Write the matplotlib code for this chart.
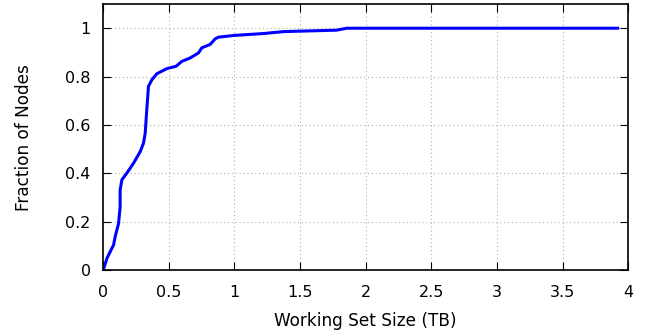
import numpy as np
import matplotlib
matplotlib.use("Agg")
import matplotlib.pyplot as plt

plt.rcParams['font.family'] = ['DejaVu Sans']

# CDF of per-node working set size (TB)
size_tb = [0.0, 0.028, 0.053, 0.079, 0.091, 0.117, 0.129, 0.129, 0.142, 0.180,
           0.231, 0.282, 0.307, 0.320, 0.332, 0.345, 0.371, 0.409, 0.485, 0.556,
           0.599, 0.662, 0.726, 0.751, 0.815, 0.853, 0.878, 0.992, 1.221, 1.373,
           1.779, 1.855, 3.92]
fraction = [0.0, 0.048, 0.076, 0.104, 0.138, 0.193, 0.262, 0.331, 0.373, 0.401,
            0.442, 0.490, 0.525, 0.566, 0.663, 0.760, 0.787, 0.812, 0.833, 0.843,
            0.863, 0.877, 0.898, 0.919, 0.933, 0.956, 0.963, 0.970, 0.978, 0.986,
            0.992, 1.0, 1.0]

x_ticks = [0, 0.5, 1, 1.5, 2, 2.5, 3, 3.5, 4]
x_tick_labels = ['0', '0.5', '1', '1.5', '2', '2.5', '3', '3.5', '4']
y_ticks = [0, 0.2, 0.4, 0.6, 0.8, 1]
y_tick_labels = ['0', '0.2', '0.4', '0.6', '0.8', '1']

fig = plt.figure(figsize=(6.45, 3.36), dpi=100)
ax = fig.add_axes([0.160, 0.196, 0.814, 0.792])

ax.plot(size_tb, fraction, color='#0000ff', lw=2.2, solid_joinstyle='round')

ax.set_xlim(0, 4)
ax.set_ylim(0, 1.1)
ax.set_xticks(x_ticks, x_tick_labels)
ax.set_yticks(y_ticks, y_tick_labels)
ax.tick_params(direction='in', length=5.5, width=0.8, labelsize=11.5,
               top=True, right=True)
ax.tick_params(axis='x', pad=11)
ax.tick_params(axis='y', pad=9)
ax.grid(True, color='#b0b0b0', linestyle=(0, (1, 2.5)), linewidth=0.8)
for s in ax.spines.values():
    s.set_linewidth(1.2)

ax.set_xlabel('Working Set Size (TB)', fontsize=12.2, labelpad=8)
ax.set_ylabel('Fraction of Nodes', fontsize=12.2, labelpad=23)

fig.savefig('out.png', dpi=100)
